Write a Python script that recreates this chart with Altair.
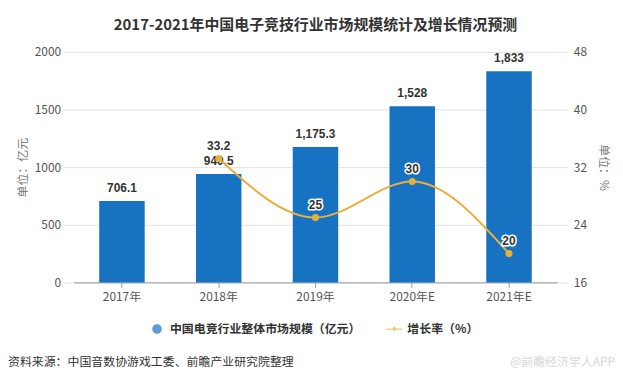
import altair as alt
import pandas as pd

# ---- data ----
years = ["2017年", "2018年", "2019年", "2020年E", "2021年E"]
market_size = [706.1, 940.5, 1175.3, 1528, 1833]
growth_years = ["2018年", "2019年", "2020年E", "2021年E"]
growth_rate = [33.2, 25, 30, 20]
series_names = ["中国电竞行业整体市场规模（亿元）", "增长率（%）"]
left_ticks = [0, 500, 1000, 1500, 2000]
right_ticks = [16, 24, 32, 40, 48]
title_text = "2017-2021年中国电子竞技行业市场规模统计及增长情况预测"
source_text = ["资料来源：中国音数协游戏工委、前瞻产业研究院整理"]
brand_text = ["@前瞻经济学人APP"]

# ---- style ----
FONT = "Noto Sans CJK SC"
BLUE = "#1872c2"
GOLD = "#e8b03a"
GRID = "#e2e2e2"
CIRCLE_PATH = "M-0.6,0A0.6,0.6 0 1,1 0.6,0A0.6,0.6 0 1,1 -0.6,0Z"
LINE_PATH = "M-1,-0.08H1V0.08H-1Z M0,-0.32L0.32,0L0,0.32L-0.32,0Z"

bar_df = pd.DataFrame({"year": years, "value": market_size})
line_df = pd.DataFrame({"year": growth_years, "rate": growth_rate})
legend_df = pd.DataFrame({"series": series_names})

x_enc = alt.X(
    "year:N", sort=years,
    scale=alt.Scale(paddingInner=0.53, paddingOuter=0.265),
    axis=alt.Axis(title=None, labelAngle=0, labelColor="#555", labelFontSize=12,
                  labelFont=FONT, labelPadding=4, tickColor="#999", tickSize=5,
                  domainColor="#999"),
)

y_left = alt.Y(
    "value:Q",
    scale=alt.Scale(domain=[0, 2000]),
    axis=alt.Axis(values=left_ticks, format="d", title="单位：亿元", titleColor="#777",
                  titleFontWeight="normal", titleFontSize=12, titleFont=FONT,
                  titlePadding=5, labelColor="#555", labelFontSize=12, labelFont=FONT,
                  gridColor=GRID, domain=False, tickColor=GRID, tickSize=10,
                  labelPadding=3, orient="left"),
)

y_right = alt.Y(
    "rate:Q",
    scale=alt.Scale(domain=[16, 48], zero=False),
    axis=alt.Axis(values=right_ticks, format="d", title="单位：%", titleColor="#777",
                  titleFontWeight="normal", titleFontSize=12, titleFont=FONT,
                  titlePadding=10, labelColor="#555", labelFontSize=12, labelFont=FONT,
                  grid=False, domain=False, tickColor=GRID, tickSize=10,
                  labelPadding=6, orient="right"),
)

bars = alt.Chart(bar_df).mark_bar(color=BLUE).encode(x=x_enc, y=y_left)
bar_labels = alt.Chart(bar_df).mark_text(
    baseline="bottom", dy=-6, fontSize=12, fontWeight="bold", color="#333",
    font="Liberation Sans"
).encode(x=x_enc, y=y_left, text=alt.Text("value:Q", format=","))
left = alt.layer(bars, bar_labels)

line = alt.Chart(line_df).mark_line(color=GOLD, strokeWidth=2, interpolate="monotone").encode(
    x=x_enc, y=y_right)
points = alt.Chart(line_df).mark_point(color=GOLD, filled=True, size=50, opacity=1).encode(
    x=x_enc, y=y_right)
halo = alt.Chart(line_df).mark_text(
    baseline="bottom", dy=-6, fontSize=12, fontWeight="bold", color="white",
    stroke="white", strokeWidth=3, strokeJoin="round", font="Liberation Sans"
).encode(x=x_enc, y=y_right, text=alt.Text("rate:Q"))
rate_labels = alt.Chart(line_df).mark_text(
    baseline="bottom", dy=-6, fontSize=12, fontWeight="bold", color="#333",
    font="Liberation Sans"
).encode(x=x_enc, y=y_right, text=alt.Text("rate:Q"))
right = alt.layer(line, points, halo, rate_labels)

leg = alt.Legend(title=None, orient="none", legendX=76, legendY=271,
                 direction="horizontal", symbolSize=256, labelFontSize=12,
                 labelColor="#333", labelFont=FONT, labelFontWeight="bold",
                 labelLimit=400, columnPadding=25, labelOffset=5,
                 symbolStrokeWidth=0, padding=0)
legend_layer = alt.Chart(legend_df).mark_point(filled=True, size=0).encode(
    color=alt.Color("series:N", scale=alt.Scale(domain=series_names, range=[BLUE, GOLD]),
                    legend=leg),
    shape=alt.Shape("series:N", scale=alt.Scale(domain=series_names,
                                                range=[CIRCLE_PATH, LINE_PATH]),
                    legend=leg),
)

source = alt.Chart(pd.DataFrame({"t": source_text})).mark_text(
    align="left", baseline="middle", fontSize=12, color="#333", font=FONT
).encode(text="t:N", x=alt.value(-66), y=alt.value(312))
brand = alt.Chart(pd.DataFrame({"t": brand_text})).mark_text(
    align="right", baseline="middle", fontSize=12, color="#d8d8d8", font=FONT
).encode(text="t:N", x=alt.value(545), y=alt.value(312))

chart = alt.layer(left, right, legend_layer, source, brand).resolve_scale(
    y="independent"
).properties(
    width=487, height=232,
    title=alt.TitleParams(title_text, fontSize=15, fontWeight="bold", color="#333",
                          font=FONT, anchor="middle", offset=13),
    padding={"left": 0, "top": 9, "right": 0, "bottom": 0},
).configure_view(stroke=None)

chart.save("out.html", embed_options={"renderer": "svg", "actions": False})
